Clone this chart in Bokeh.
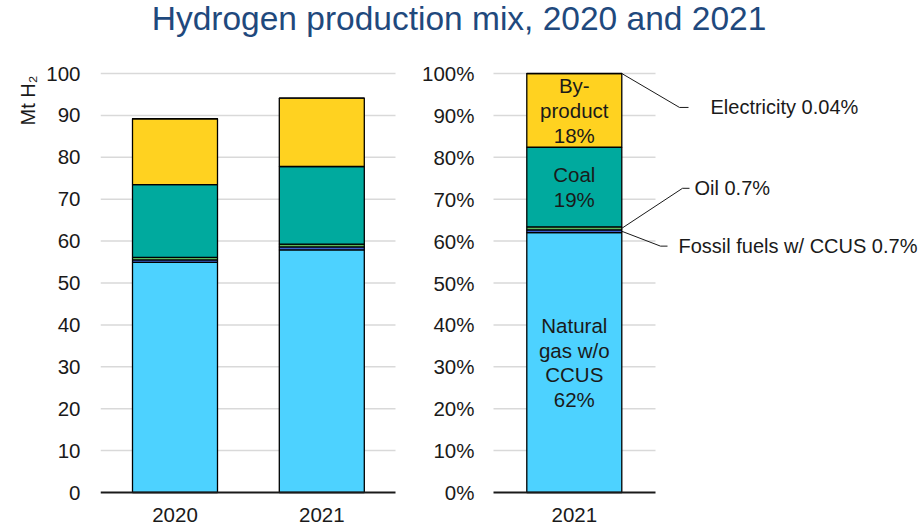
from bokeh.plotting import figure
from bokeh.models import Range1d, FixedTicker, ColumnDataSource, Title, Div
from bokeh.layouts import column
from bokeh.core.properties import value
from bokeh.embed import file_html
from bokeh.resources import INLINE

# ---------------- data ----------------
years = ["2020", "2021"]
sources = ["Natural gas w/o CCUS", "Fossil fuels w/ CCUS", "Oil", "Coal", "By-product", "Electricity"]
gas_mt = [54.9, 57.9]
ccus_mt = [0.6, 0.7]
oil_mt = [0.6, 0.7]
coal_mt = [17.4, 18.5]
byproduct_mt = [15.7, 16.3]
electricity_mt = [0.03, 0.04]

share_year = "2021"
share_pct = [62.0, 0.7, 0.7, 19.0, 17.56, 0.04]   # same order as sources
inside_names = ["Natural\ngas w/o\nCCUS", None, None, "Coal", "By-\nproduct", None]
outside_names = [None, "Fossil fuels w/ CCUS", "Oil", None, None, "Electricity"]

left_ticks = [0, 10, 20, 30, 40, 50, 60, 70, 80, 90, 100]
right_ticks = [0, 10, 20, 30, 40, 50, 60, 70, 80, 90, 100]

colors = ["#4dd2ff", "#3a5fcd", "#5cb85c", "#00aa9e", "#ffd220", "#9a9a9a"]

FONT = "Liberation Sans"
TXT = "#1a1a1a"
GRID = "#d9d9d9"
FS = "20.5px"

# ---------------- layout helpers (page pixels -> data units) ----------------
W, H = 921, 477
TOP = 50                      # page y of figure top (below the title)
BL = 100
U = 146.8                     # px per x unit
C0 = 174.5                    # page x of first bar centre
V = 4.19                      # px per y unit
Y0 = 492                      # page y of value 0

def px(xp):
    return (xp - C0) / U

def py(yp):
    return (Y0 - yp) / V

x_start = px(BL)
x_end = x_start + (W - BL) / U
y_start = py(TOP + H)
y_end = py(TOP)
x_right = 2.72                # centre of the share bar
left_w = 85 / U
right_w = 95 / U

p = figure(x_range=Range1d(x_start, x_end), y_range=Range1d(y_start, y_end),
           width=W, height=H, output_backend="svg", toolbar_location=None,
           min_border_left=BL, min_border_right=0, min_border_top=0, min_border_bottom=0)
p.xgrid.grid_line_color = None
p.ygrid.grid_line_color = None
p.outline_line_color = None
p.background_fill_color = None
p.border_fill_color = None
p.xaxis.visible = False

# gridlines + baselines (two panels)
spans = [(x_start, px(395)), (px(493), px(655))]
gx0, gx1, gy = [], [], []
for a, b in spans:
    for t in left_ticks[1:]:
        gx0.append(a); gx1.append(b); gy.append(t)
p.segment(x0=gx0, y0=gy, x1=gx1, y1=gy, line_color=GRID, line_width=1.5)

# ---------------- left stacked bars ----------------
keys = ["gas", "ccus", "oil", "coal", "byp", "elec"]
src_left = ColumnDataSource(dict(x=list(range(len(years))), gas=gas_mt, ccus=ccus_mt, oil=oil_mt,
                                 coal=coal_mt, byp=byproduct_mt, elec=electricity_mt))
p.vbar_stack(keys, x="x", width=left_w, source=src_left, color=colors,
             line_color="#000000", line_width=1.3)

# ---------------- right 100% bar ----------------
src_right = ColumnDataSource({"x": [x_right], **{k: [v] for k, v in zip(keys, share_pct)}})
p.vbar_stack(keys, x="x", width=right_w, source=src_right, color=colors,
             line_color="#000000", line_width=1.3)

p.segment(x0=[a for a, b in spans], y0=[0, 0], x1=[b for a, b in spans], y1=[0, 0],
          line_color="#1a1a1a", line_width=2)

# category labels under the bars
p.text(x=[0, 1, x_right], y=[py(514)] * 3, text=years + [share_year],
       text_align="center", text_baseline="middle", text_font=value(FONT),
       text_font_size=FS, text_color=TXT)

# percent tick labels of the right panel
p.text(x=[px(474)] * len(right_ticks), y=right_ticks, text=[f"{t}%" for t in right_ticks],
       text_align="right", text_baseline="middle", text_font=value(FONT),
       text_font_size=FS, text_color=TXT)

# inside labels
bottoms = []
acc = 0.0
for v in share_pct:
    bottoms.append(acc)
    acc += v
in_x, in_y, in_t = [], [], []
for name, v, b in zip(inside_names, share_pct, bottoms):
    if name:
        in_x.append(x_right)
        in_y.append(b + v / 2)
        in_t.append(f"{name}\n{round(v)}%")
p.text(x=in_x, y=in_y, text=in_t, text_align="center", text_baseline="middle",
       text_font=value(FONT), text_font_size=FS, text_color=TXT, text_line_height=1.07)

# outside labels with leader lines
label_pos = {  # (elbow px, stub end px, label y, text px)
    "Fossil fuels w/ CCUS": (660, 667, 58.8, 678),
    "Oil": (682, 689, 72.6, 694),
    "Electricity": (679, 688, 91.9, 710),
}
lx, ly, lt, xs, ys = [], [], [], [], []
bar_edge = x_right + right_w / 2
for name, v, b in zip(outside_names, share_pct, bottoms):
    if name:
        ex, se, yy, tx = label_pos[name]
        start_y = 100 if name == "Electricity" else b + v / 2
        xs.append([bar_edge, px(ex), px(se)])
        ys.append([start_y, yy, yy])
        lx.append(px(tx))
        ly.append(yy)
        lt.append(f"{name} {v:g}%")
p.multi_line(xs=xs, ys=ys, line_color="#1a1a1a", line_width=1)
p.text(x=lx, y=ly, text=lt, text_align="left", text_baseline="middle",
       text_font=value(FONT), text_font_size="20px", text_color=TXT)

# ---------------- left y axis ----------------
p.yaxis.ticker = FixedTicker(ticks=left_ticks)
ax = p.yaxis[0]
ax.axis_line_color = None
ax.major_tick_line_color = None
ax.minor_tick_line_color = None
ax.major_label_text_font = FONT
ax.major_label_text_font_size = FS
ax.major_label_text_color = TXT
ax.major_label_standoff = 14
p.add_layout(Title(text="Mt H₂", align="right", text_font=FONT, text_font_size="20px",
                   text_font_style="normal", text_color=TXT, offset=25), "left")

title = Div(text='<div style="font-family:\'Liberation Sans\'; font-size:33.5px; color:#1f497d; '
                 'text-align:center; line-height:34px; width:908px; margin-top:-3px; white-space:nowrap">'
                 'Hydrogen production mix, 2020 and 2021</div>',
            width=903, height=40)

layout = column(title, p)
open("out.html", "w").write(file_html(layout, INLINE))
